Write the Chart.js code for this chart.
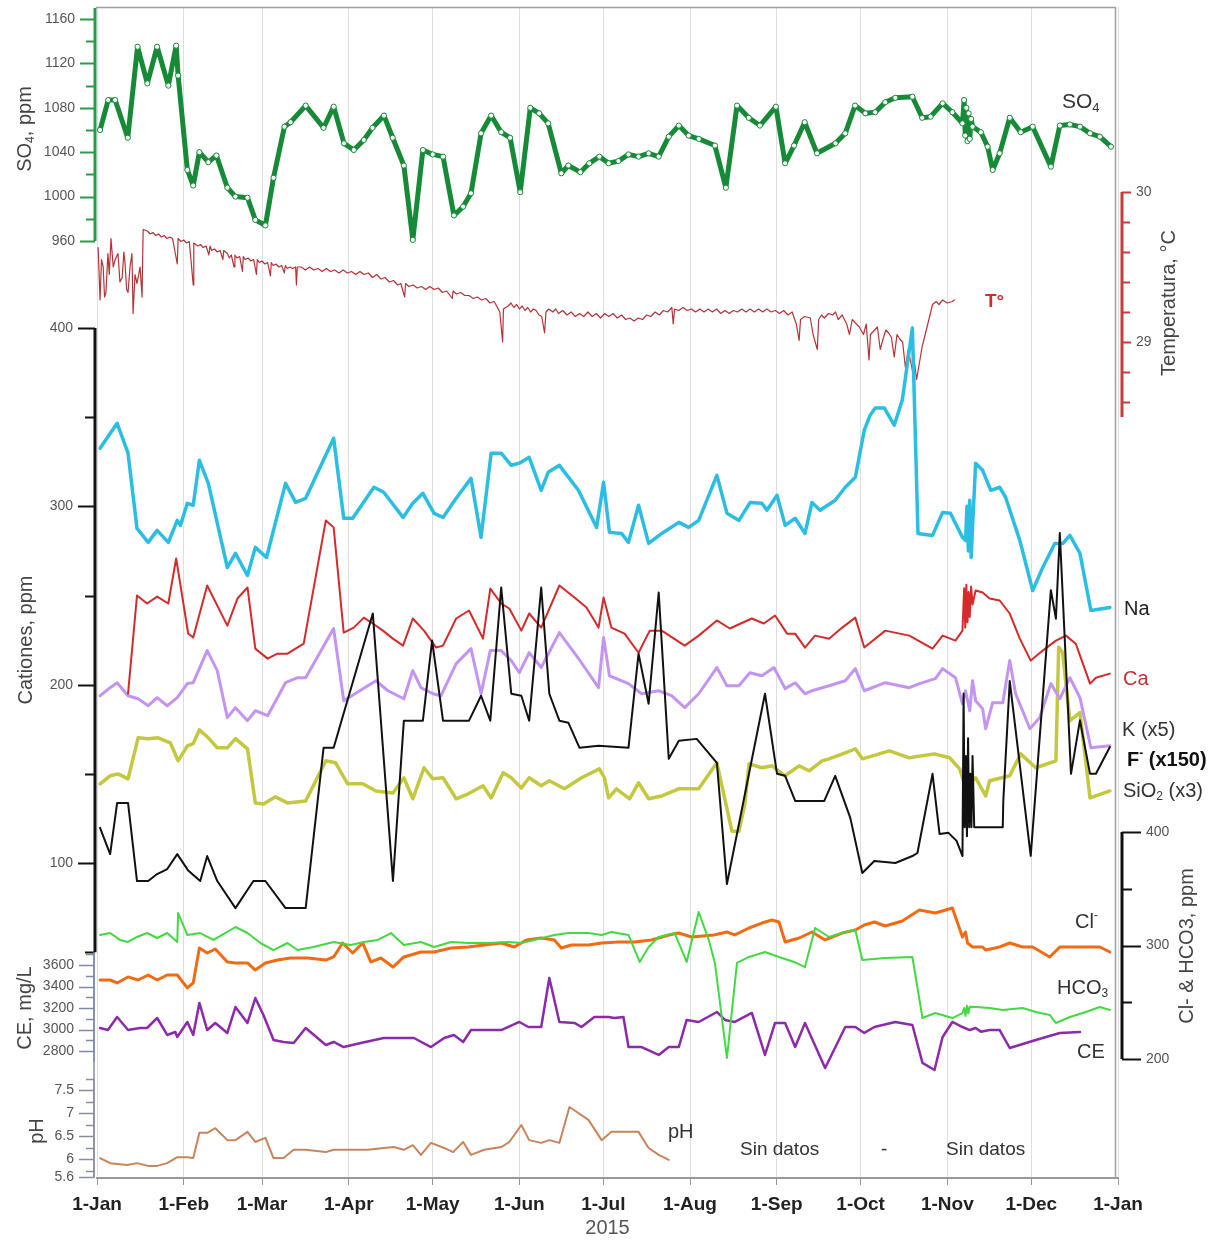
<!DOCTYPE html>
<html>
<head>
<meta charset="utf-8">
<script src="https://cdn.jsdelivr.net/npm/chart.js"></script>
<style>html,body{margin:0;padding:0;background:#fff}</style>
</head>
<body>
<canvas id="c" width="1228" height="1243"></canvas>
<script>
// ---- Time axis (day of year 2015) ----
const monthDays = [0, 31, 59, 90, 120, 151, 181, 212, 243, 273, 304, 334, 365];
const monthLabels = ['1-Jan','1-Feb','1-Mar','1-Apr','1-May','1-Jun','1-Jul','1-Aug','1-Sep','1-Oct','1-Nov','1-Dec','1-Jan'];

// ---- Series: [day, value] ----
const sulfate = [[1.1,1060],[4,1087],[6.5,1087],[11,1053],[14.5,1135],[18,1102],[21.5,1135],[25.5,1100],[28.3,1136],[29,1109],[32.3,1024],[34.4,1010],[36.6,1040],[39.8,1031],[42.7,1037],[46.6,1008],[49.5,1000],[53.8,999],[56.6,979],[60.2,974],[63.1,1017],[67,1063],[69.2,1067],[74.6,1082],[81,1062],[84.6,1081],[88.3,1048],[91.8,1042],[95.4,1051],[98.5,1062],[102.6,1073],[105.7,1053],[109.7,1028],[112.9,961],[116.5,1042],[120,1038],[123.7,1036],[127.6,983],[130.9,991],[133.7,1003],[137.3,1057],[140.9,1073],[144.5,1058],[147.7,1053],[151.3,1004],[154.9,1080],[158.1,1075],[161.3,1066],[166,1021],[168.5,1028],[172.8,1022],[176,1030],[179.6,1036],[182.9,1030],[186.4,1032],[190,1038],[193.6,1036],[197.2,1039],[200.8,1036],[204.4,1054],[208,1064],[211.5,1055],[215.1,1052],[220.9,1046],[224.8,1008],[228.8,1082],[233,1071],[237,1064],[242.7,1081],[246,1030],[249.2,1046],[253,1067],[257.4,1039],[264,1048],[267.5,1057],[271,1082],[274.7,1075],[278.2,1076],[281.8,1085],[285.4,1089],[291.5,1090],[295,1071],[298,1072],[302.3,1084],[305.8,1076],[309.4,1066],[310,1087],[310.4,1055],[310.8,1080],[311.2,1050],[311.6,1075],[312,1052],[312.5,1070],[313,1063],[316,1058],[318.4,1045],[320.2,1024],[322.7,1039],[326.3,1071],[330.2,1058],[334.5,1063],[341,1027],[344.2,1064],[347.8,1065],[351.4,1063],[355,1057],[358.5,1054],[362.5,1045]];

const temperature = [[0.4,29.63],[1.1,29.28],[1.6,29.55],[2.2,29.5],[2.7,29.3],[3.2,29.33],[3.9,29.59],[4.4,29.45],[5,29.69],[5.8,29.5],[6.5,29.55],[7.5,29.59],[8.2,29.4],[9,29.43],[9.6,29.6],[10,29.53],[10.6,29.35],[11.1,29.33],[11.8,29.5],[12.5,29.59],[12.9,29.19],[13.6,29.45],[14.3,29.39],[15.4,29.5],[16.1,29.3],[16.5,29.75],[18,29.74],[19,29.72],[20,29.73],[21,29.71],[22,29.72],[23,29.7],[24,29.71],[25,29.69],[26,29.7],[27,29.69],[28.7,29.52],[29,29.69],[30,29.67],[31,29.68],[32,29.66],[33,29.67],[34.4,29.38],[34.6,29.66],[36,29.64],[37,29.65],[38,29.63],[39,29.64],[40,29.58],[40.4,29.64],[41,29.61],[42,29.62],[43,29.6],[44,29.61],[45,29.55],[45.3,29.61],[46.6,29.59],[47.3,29.56],[48,29.58],[49,29.5],[49.3,29.58],[50,29.56],[51,29.57],[52,29.47],[52.3,29.57],[53,29.55],[54,29.56],[55,29.54],[56,29.55],[57,29.45],[57.3,29.55],[58,29.53],[59,29.54],[60,29.52],[61,29.53],[62,29.44],[62.3,29.53],[63,29.51],[64,29.52],[65,29.5],[66,29.51],[67,29.46],[67.3,29.51],[68,29.49],[69,29.5],[70,29.49],[71,29.5],[71.3,29.38],[71.6,29.5],[73,29.5],[74.5,29.48],[76,29.5],[77.5,29.48],[79,29.49],[80.5,29.47],[82,29.49],[83.5,29.47],[85,29.48],[86.5,29.46],[88,29.48],[89.5,29.46],[91,29.47],[92.5,29.45],[94,29.47],[95.5,29.45],[97,29.46],[98.5,29.43],[100,29.45],[101.5,29.42],[103,29.43],[104.5,29.4],[106,29.41],[107.5,29.38],[108.6,29.39],[110,29.3],[110.3,29.39],[111.5,29.37],[113,29.38],[114.5,29.36],[116,29.37],[117.5,29.35],[119,29.37],[120.5,29.35],[122,29.36],[123.5,29.33],[125,29.34],[127,29.29],[127.3,29.34],[128.5,29.32],[130,29.33],[131.5,29.31],[133,29.31],[134.5,29.29],[136,29.3],[137.5,29.28],[139,29.29],[140.5,29.26],[142,29.27],[144,29.2],[145,29.0],[145.3,29.22],[147,29.24],[148,29.26],[149,29.23],[150,29.25],[151,29.22],[152,29.24],[153,29.21],[154,29.23],[155,29.2],[156,29.22],[157,29.21],[158,29.18],[159,29.17],[160,29.06],[160.5,29.2],[161.5,29.22],[163,29.2],[164,29.22],[165,29.19],[166.5,29.21],[168,29.18],[169.5,29.2],[171,29.17],[172.5,29.19],[174,29.17],[175.5,29.2],[177,29.17],[178.5,29.19],[180,29.16],[181.5,29.19],[183,29.17],[184.5,29.19],[186,29.16],[187.5,29.18],[189,29.15],[190.5,29.16],[192,29.14],[193.5,29.16],[195,29.15],[196.5,29.18],[198,29.17],[199.5,29.2],[201,29.18],[202.5,29.21],[204,29.2],[205.5,29.23],[206,29.12],[206.5,29.22],[208,29.21],[209.5,29.23],[211,29.21],[212.5,29.22],[214,29.2],[215.5,29.22],[217,29.2],[218.5,29.22],[220,29.2],[221.5,29.22],[223,29.19],[224.5,29.21],[226,29.19],[227.5,29.21],[229,29.2],[230.5,29.22],[232,29.2],[233.5,29.22],[235,29.2],[236.5,29.22],[238,29.2],[239.5,29.22],[241,29.2],[242.5,29.21],[244,29.19],[245.5,29.21],[247,29.18],[248.5,29.2],[250,29.12],[251,29.01],[251.5,29.15],[253,29.17],[255,29.16],[256,29.05],[257.5,28.95],[258,29.15],[259,29.18],[260,29.16],[261.5,29.19],[263,29.18],[264,29.2],[265,29.15],[266.4,29.18],[268,29.12],[269,29.05],[270,29.15],[271.5,29.12],[272.5,29.1],[274,29.05],[275,29.12],[276,28.88],[276.5,29.05],[278,29.08],[279,29.1],[280,28.95],[281,29.02],[282,29.08],[283,29.06],[284,29.03],[285,28.9],[286,29.05],[287,29.02],[288,29.0],[289,28.83],[290,28.95],[291.5,28.81],[292,28.9],[293,28.75],[294,28.86],[295,28.97],[297,29.12],[298.7,29.25],[300,29.27],[301,29.25],[302.3,29.28],[304,29.26],[305.8,29.27],[306.5,29.28]];

const sodium = [[1.1,332.6],[7.2,346.6],[11.1,329.8],[14.3,287.6],[18.3,279.8],[21.5,286.5],[25.5,279.8],[28.7,292.1],[29.8,289.3],[32.3,301.7],[34.4,300.6],[36.6,325.8],[39.8,312.9],[46.6,265.7],[49.5,273.6],[53.8,261.2],[56.6,277],[60.6,271.3],[67.4,312.9],[71,302.2],[74.6,304.5],[84.6,338.2],[88.2,293.3],[91.4,293.3],[99,310.7],[102.5,307.9],[109.4,293.8],[112.9,301.7],[116.5,307.3],[120.5,296.1],[123.7,293.8],[128.4,304.5],[133.7,315.7],[137.3,282.6],[140.9,329.8],[144.5,329.8],[148.1,323],[151,324.2],[154.5,327.5],[158.8,309],[161.3,319.1],[165.3,323],[172.1,309],[178.6,288.2],[181.1,313.5],[183.2,285.4],[187.5,284.8],[190,279.8],[193.6,300.6],[197.2,279.2],[201.9,284.8],[208,291],[211.5,288.2],[215.1,292.1],[221.6,317.4],[225.2,296.1],[229.5,292.1],[233.5,302.2],[237.7,301.7],[239.5,297.8],[243.1,306.2],[246,289.3],[249.6,293.3],[253.1,284.8],[255.6,302.2],[258.5,297.8],[263.9,303.4],[267.5,310.7],[271.1,316.3],[274.3,342.7],[276.4,351.1],[278.2,355.1],[281.5,355.1],[285,345.5],[287.9,359.6],[291.5,400],[293.5,284.8],[298.7,283.7],[302.3,296.6],[305.1,296.1],[309.4,282.6],[310.5,280.9],[311,300],[311.5,275],[312,303.4],[312.5,271.3],[313,288.2],[314.1,324.2],[316.6,320.2],[319.5,309],[322.7,310.7],[324.8,305.1],[329.9,280.9],[334.5,252.8],[338.1,265.7],[342.4,279.2],[345.3,279.2],[347.8,283.7],[351.4,273.6],[355.3,241.6],[362.1,243.3]];

const calcium = [[11.1,195],[14.3,250],[17.9,245.5],[21.5,249.4],[25.5,245.5],[28.3,270.8],[32.6,228.7],[34.4,226.4],[39.4,255.6],[46.6,233.1],[50.2,248.3],[53.8,254.5],[56.6,220.2],[61,214.6],[64.5,217.4],[68.1,217.4],[73.9,223],[81.8,292.1],[84.6,288.2],[88.2,229.2],[91.8,232],[95.4,237.6],[98.6,234.3],[102.2,230.3],[105.8,225.8],[109.4,221.9],[112.9,237.1],[116.9,230.3],[121.2,220.8],[123.7,221.9],[128.4,237.1],[133,241.6],[138,225.8],[140.6,253.9],[144.5,245.5],[147.4,242.7],[151.7,230.3],[154.5,239.9],[158.8,232],[165.3,255.6],[170.7,248.9],[175,243.3],[179.3,232],[181.1,248.9],[183.9,232],[188.6,228.6],[193.6,217.9],[197.6,230.3],[201.9,230.3],[210.1,221.9],[215.1,227.5],[221.6,236],[226.2,231.5],[234.1,237.1],[238.4,234.3],[242.4,238.8],[246.7,228.6],[249.6,228.6],[253.1,220.8],[256.7,227.5],[261.7,225.8],[266.4,232],[271.1,237.6],[274.3,220.8],[281.8,230.3],[290.4,227.5],[298.7,220.2],[302.3,227.5],[306.9,224.7],[309.4,230.3],[310,254],[310.4,232],[310.8,256],[311.2,235],[311.6,252],[312,238],[312.5,255],[313,245],[314.1,252.8],[316.6,251.7],[319.1,248.3],[322.7,247.2],[326.3,239.9],[329.9,225.8],[333.8,213.5],[338.1,219.1],[342.8,224.7],[346.4,227.5],[349.9,223],[355,200.6],[357.1,203.9],[362.1,206.2]];

const potassiumX5 = [[1.1,193.8],[4.7,198.3],[7.2,201.1],[11.1,193.8],[14.7,192.1],[18.3,188.2],[21.5,192.7],[25.1,188.2],[28.7,192.7],[32.3,200.6],[34.4,201.1],[39.4,219.1],[43,207.9],[46.6,181.5],[49.5,187.1],[53.8,179.8],[56.6,185.4],[61,182.6],[67.4,201.1],[71.7,203.9],[74.6,203.9],[84.6,231.5],[88.2,191],[99.7,202.2],[104,196.6],[109.7,192.1],[112.9,207.9],[115.8,198.3],[120.1,194.9],[123,193.8],[128.4,211.8],[133.7,220.2],[137.3,194.9],[140.6,219.1],[144.5,219.1],[148.1,213.5],[151,206.7],[154.5,218],[158.8,209.6],[165.3,229.2],[172.1,214.8],[179.3,198.3],[181.1,226.4],[183.2,205],[190,200.6],[194.7,194.9],[200.8,196.6],[205.4,193.8],[210.1,187.1],[215.1,194.9],[221.6,209.6],[225.2,199.4],[229.5,199.4],[233.4,206.7],[237.7,205],[242,209.6],[246,197.8],[249.6,201.1],[253.1,194.9],[255.6,196.6],[261.7,199.4],[267.5,202.2],[271.1,209],[274.3,196.6],[281.8,201.1],[290.4,198.3],[294,200.6],[299.7,203.4],[302.3,209],[306.9,203.9],[309.4,189.3],[310.5,196.6],[312,185.4],[313,202.2],[314.1,191],[316.6,186.5],[317.7,175.3],[320.2,189.9],[323.8,189.9],[326.3,213.5],[328.4,194.9],[333.5,175.3],[337,181.5],[341,200.6],[344.2,192.1],[347.8,203.9],[351.4,192.7],[355.3,164.6],[362.1,165.7]];

const silicaX3 = [[1.1,144.4],[4.7,148.9],[7.5,150],[11.1,147.2],[14.7,170.2],[18.3,169.7],[21.9,170.2],[26.2,167.4],[29,157.3],[32.3,165.7],[34.4,166.9],[36.6,174.7],[39.8,170.2],[43,164.6],[46.6,164.6],[49.5,169.7],[53.8,164],[56.6,133.7],[59.5,133.1],[63.8,137.1],[68.1,133.7],[74.6,134.8],[81.8,157.3],[85.3,156.2],[89.6,144.4],[95,144.4],[99.7,140.4],[105.8,139.3],[109.7,147.8],[112.9,136],[116.9,153.4],[120.1,147.2],[123.7,147.8],[128.4,136],[132.7,138.8],[138,143.3],[140.9,136.5],[145.2,150.6],[148.1,147.8],[151.7,142.1],[154.5,147.8],[158.8,143.3],[161.7,146.1],[167.1,141.6],[173.2,147.8],[179.6,152.8],[181.4,147.8],[182.9,136.5],[185.7,141.6],[190.4,136],[193.6,145],[197.2,136],[201.9,137.6],[208,141.6],[215.1,141.6],[221.6,156.2],[227,117.8],[229.5,117.8],[231.6,133.1],[233.1,155.6],[237.7,153.4],[241.3,154.5],[246,148.9],[251,154.5],[254.6,151.7],[259.2,157.3],[261.7,158.4],[267.5,161.8],[271.1,164],[273.6,158.4],[283.3,162.9],[290.4,159],[299.4,161.2],[304.8,159],[308.4,152.8],[310.5,142.1],[314.1,147.8],[317.7,137.6],[319.1,146.1],[326.3,148.9],[330.2,161.2],[335.6,153.4],[342.8,157.3],[343.8,221],[345.2,218],[347.8,179.8],[351.4,184.3],[355,136.5],[362.1,140.4]];

const fluorideX150 = [[1.1,119.7],[4.7,105],[7.2,133.7],[11.1,133.7],[14.3,89.9],[18.3,89.9],[21.5,93.8],[25.1,96.6],[28.7,105],[32.5,96],[36.9,89.9],[39.4,103.9],[43,89.9],[49.5,74.7],[55.9,89.9],[60.2,89.9],[67.4,74.7],[74.6,74.7],[81,164.6],[84.6,164.6],[98.6,239.9],[105.8,89.9],[109.7,179.8],[116.5,179.8],[119.8,224.7],[123.7,179.8],[133,179.8],[137.3,193.8],[140.6,179.8],[144.5,254.5],[148.1,194.9],[151.7,193.8],[154.5,179.8],[158.8,254.5],[161.7,194.9],[165.3,179.8],[168.5,178.7],[172.5,164.6],[179.3,165.7],[190,164.6],[193.6,217.4],[197.2,189.3],[200.8,251.7],[204.4,158.4],[208,168.5],[214.4,169.6],[221.6,156.2],[225.2,88.2],[238.8,194.9],[243.1,150],[246,148.9],[249.6,134.8],[260,134.8],[263.9,148.9],[269.3,125.3],[273.6,94.4],[277.9,101.1],[285.4,100],[291.5,103.9],[293.3,105.6],[298.7,150],[301.2,116.3],[304.4,116.9],[307.3,112.4],[309.4,103.9],[309.8,195],[310.2,120],[310.6,160],[311,115],[311.4,170],[311.8,120],[312.2,150],[312.6,120],[313,160],[313.6,120],[323.8,120],[324,135],[326.3,202],[333.8,104],[341,253],[342.8,237],[344.2,285],[348.2,150],[351.4,180],[355,150],[357.1,150],[362.1,165]];

const chloride = [[1.1,269.6],[4.7,269.6],[7.2,267],[11.1,272.3],[14.7,269.6],[18.3,274],[21.5,269.6],[25.1,274],[28.7,274],[32.3,262.6],[34.4,267],[36.6,297.8],[39.4,293.4],[42.3,296.9],[46.6,285.5],[49.5,284.6],[53.8,284.6],[56.6,278.4],[60.2,284.6],[64.5,287.2],[69.2,289],[75.3,289],[81.8,287.2],[84.6,289.9],[87.8,302.2],[91.4,293.4],[95,302.2],[97.9,285.5],[101.5,289],[105.8,281],[109.7,289.9],[115.8,294.3],[120.5,294.3],[126.6,297.8],[132.7,298.7],[138.4,300.4],[144.5,302.2],[149.2,298.7],[153.5,304.9],[158.8,306.6],[163.5,304.9],[166,297.8],[169.6,300.4],[175.7,300.4],[180.4,302.2],[186.4,303.1],[192.2,303.1],[198.3,304.9],[204.4,309.3],[208,311],[212.6,307.5],[220.5,309.3],[225.2,311.9],[228,309.3],[233.1,315.4],[237.7,319.8],[241.3,322.5],[243.8,320.7],[246,303.1],[251,306.6],[255.6,311.9],[260.3,304.9],[266.4,311],[271.1,313.7],[274.3,318.1],[277.9,320.7],[281.8,317.2],[287.9,321.6],[294,331.3],[299.7,328.6],[305.8,333],[309.4,307.5],[310.5,311.9],[311.2,302.2],[313,298.7],[316.6,298.7],[317.7,296],[322.7,298.7],[326.3,302.2],[330.9,298.7],[334.5,298.7],[340.6,289.9],[344.2,298.7],[347.8,298.7],[352.5,298.7],[358.5,298.7],[362.1,294.3]];

const bicarbonate = [[1.1,309.3],[4.7,311],[8.2,304.9],[11.1,303.1],[14.3,307.5],[17.9,311],[21.5,306.6],[25.1,311],[28.7,303.1],[29,328.6],[32.3,309.3],[36.9,311],[41.6,304.9],[46.6,311.9],[49.5,316.3],[53.8,311],[58.4,302.2],[63.1,296],[68.1,302.2],[71.7,296],[77.4,298.7],[84.6,303.1],[90.7,300.4],[95.4,303.1],[100.4,304.9],[105.1,311],[109.7,300.4],[115.8,303.1],[120.5,298.7],[126.6,303.1],[132.7,302.2],[139.8,302.2],[147,303.1],[151.7,302.2],[156.3,304.9],[163.5,309.3],[168.5,311],[175.7,311],[180.4,309.3],[183.9,311.9],[190,309.3],[194,285.5],[197.2,298.7],[200.8,307.5],[206.5,311],[210.8,285.5],[215.1,329.5],[218.7,304.9],[220.9,284.6],[225.2,200.9],[228.8,284.6],[233.1,289.9],[238.8,294.3],[243.8,289.9],[249.2,285.5],[253.1,281],[256.7,315.4],[261.7,307.5],[266.4,311],[271.1,313.7],[273.6,287.2],[281.8,289],[291.5,289.9],[295.1,236.1],[299.7,240.5],[305.8,236.1],[309.4,240.5],[310,245],[310.5,238],[311,247],[311.5,240],[312,246],[314.1,245.8],[319.1,244.9],[323.8,243.2],[330.9,244.9],[335.6,241.4],[340.6,238.8],[342.8,231.7],[347.8,237],[353.5,241.4],[358.5,245.8],[362.1,243.2]];

const conductivity = [[1.1,3014],[3.9,2995],[7.2,3116],[11.1,2995],[15.4,3014],[17.9,3014],[21.5,3107],[25.1,2949],[28,2977],[28.7,2930],[32.3,3070],[34.4,2949],[36.6,3247],[39.4,2995],[42.3,3061],[46.6,2968],[49.5,3209],[53.8,3061],[56.6,3293],[59.5,3135],[63.1,2902],[66.7,2884],[70.3,2875],[74.6,3014],[81.8,2856],[84.6,2884],[88.2,2837],[94.3,2875],[102.5,2921],[108.6,2921],[113.3,2921],[119.4,2837],[124.1,2921],[127.6,2949],[130.9,2884],[133.7,2995],[139.8,2995],[144.5,2995],[151,3070],[154.2,3023],[158.8,3023],[161.7,3479],[165.3,3070],[170.7,3061],[173.2,3023],[177.8,3116],[182.9,3116],[185,3107],[188.2,3116],[190,2837],[194.7,2837],[200.8,2763],[204.4,2837],[208,2837],[210.8,3089],[215.1,3070],[221.6,3163],[224.5,3089],[228,3070],[234.1,3154],[238.8,2763],[242.4,3061],[246,3061],[249.6,2837],[253.1,3061],[260.3,2642],[267.5,3023],[271.1,3023],[274.3,2968],[277.9,3023],[285.4,3070],[291.5,3042],[295.1,2689],[299.4,2623],[302.3,2930],[305.8,3070],[309.4,3023],[312,2995],[314.1,3014],[316,2980],[319.1,2995],[322.7,2995],[326.3,2828],[335.6,2902],[344.2,2968],[351.4,2977]];

const phValues = [[1.1,6.02],[4.7,5.91],[10.8,5.87],[14.3,5.91],[18.3,5.85],[21.5,5.85],[25.1,5.91],[28.7,6.04],[32.3,6.04],[34.4,6.02],[36.6,6.57],[39.4,6.57],[42.3,6.67],[46.6,6.41],[49.5,6.41],[53.8,6.59],[56.6,6.37],[60.2,6.46],[63.1,6.02],[66.7,6.02],[70.3,6.2],[74.6,6.2],[81.8,6.15],[84.6,6.2],[90.7,6.2],[96.8,6.2],[102.5,6.24],[106.1,6.26],[109.7,6.2],[112.9,6.3],[115.8,6.09],[119.4,6.35],[124.1,6.24],[127.3,6.15],[130.9,6.37],[133.7,6.09],[138.4,6.2],[144.5,6.26],[147.4,6.37],[151.7,6.74],[154.5,6.41],[158.8,6.35],[161.7,6.41],[165.3,6.35],[168.9,7.13],[175.7,6.85],[180.4,6.41],[183.9,6.59],[190,6.59],[193.6,6.59],[197.2,6.24],[200.8,6.09],[204.4,5.98]];

// ---- Axis tick values ----
const so4Ticks = [960,980,1000,1020,1040,1060,1080,1100,1120,1140,1160];
const so4Labels = [960,1000,1040,1080,1120,1160];
const tempTicks = [28.6,28.8,29,29.2,29.4,29.6,29.8,30];
const tempLabels = [29,30];
const cationTicks = [50,100,150,200,250,300,350,400];
const cationLabels = [100,200,300,400];
const anionTicks = [200,250,300,350,400];
const anionLabels = [200,300,400];
const ceTicks = [2800,2900,3000,3100,3200,3300,3400,3500,3600,3700];
const ceLabels = [2800,3000,3200,3400,3600];
const phTicks = [5.6,5.75,6,6.25,6.5,6.75,7,7.25,7.5,7.75];
const phLabels = [5.6,6,6.5,7,7.5];

// ---- Layout ----
const FONT = 'Arial, "Liberation Sans", Helvetica, sans-serif';
const AREA = { left: 97, right: 1118, top: 7, bottom: 1178 };

// Each value band sits at its own height of the shared plot area:
// derive min/max so that two reference values land on the given pixel rows.
function band(v0, p0, v1, p1) {
  const s = (p0 - p1) / (v1 - v0);
  return { min: v0 - (AREA.bottom - p0) / s, max: v0 + (p0 - AREA.top) / s };
}
const rSO4 = band(960, 241, 1160, 19);
const rTemp = band(29, 342, 30, 192);
const rCat = band(100, 863, 400, 328);
const rAn = band(200, 1059, 400, 832);
const rCE = band(2800, 1051, 3600, 965);
const rPH = band(6, 1159, 7.5, 1090);

const pts = arr => arr.map(([x, y]) => ({ x, y }));
function line(label, data, axis, color, width, extra) {
  return Object.assign({ label, data: pts(data), yAxisID: axis, borderColor: color,
    backgroundColor: color, borderWidth: width, pointRadius: 0, fill: false }, extra || {});
}

const datasets = [
  line('SO4', sulfate, 'ySO4', '#178a38', 5, { pointRadius: 2.6, pointBackgroundColor: '#ffffff',
    pointBorderColor: '#178a38', pointBorderWidth: 1 }),
  line('F (x150)', fluorideX150, 'yCat', '#111111', 2),
  line('Na', sodium, 'yCat', '#2cbde2', 3.5),
  line('Ca', calcium, 'yCat', '#d42a2a', 2),
  line('K (x5)', potassiumX5, 'yCat', '#c394f2', 3),
  line('SiO2 (x3)', silicaX3, 'yCat', '#c3c83e', 3.5),
  line('HCO3', bicarbonate, 'yAn', '#42d942', 2),
  line('Cl', chloride, 'yAn', '#f26b12', 3),
  line('CE', conductivity, 'yCE', '#8c2aaa', 2.5),
  line('pH', phValues, 'yPH', '#c8845c', 2),
  line('T', temperature, 'yTemp', '#b3333a', 1.2)
];

// ---- Side axes drawn at fixed columns ----
const SIDE_AXES = [
  { id: 'ySO4', dir: -1, x: 95, color: '#2b9a4b', lw: 3, lo: 960, hi: 1170, ticks: so4Ticks, labels: so4Labels, major: 15, minor: 9 },
  { id: 'yCat', dir: -1, x: 95, color: '#111111', lw: 3, lo: 50, hi: 400, ticks: cationTicks, labels: cationLabels, major: 17, minor: 10 },
  { id: 'yCE', dir: -1, x: 94, color: '#7d8aa8', lw: 1.5, lo: 2700, hi: 3720, ticks: ceTicks, labels: ceLabels, major: 15, minor: 8 },
  { id: 'yPH', dir: -1, x: 94, color: '#8a8e9c', lw: 1.5, lo: 5.6, hi: 7.75, ticks: phTicks, labels: phLabels, major: 15, minor: 8 },
  { id: 'yTemp', dir: 1, x: 1122, color: '#c63b3b', lw: 3, lo: 28.5, hi: 30, ticks: tempTicks, labels: tempLabels, major: 9, minor: 8 },
  { id: 'yAn', dir: 1, x: 1122, color: '#111111', lw: 3, lo: 200, hi: 400, ticks: anionTicks, labels: anionLabels, major: 19, minor: 10 }
];

function rich(ctx, parts, x, y, size, color, align, weight) {
  const w8 = weight || 'normal';
  const fontFor = k => `${w8} ${k === 'n' ? size : Math.round(size * 0.62)}px ${FONT}`;
  let w = 0;
  for (const [t, k] of parts) { ctx.font = fontFor(k); w += ctx.measureText(t).width; }
  let cx = align === 'center' ? x - w / 2 : align === 'right' ? x - w : x;
  ctx.fillStyle = color;
  ctx.textAlign = 'left';
  ctx.textBaseline = 'middle';
  for (const [t, k] of parts) {
    ctx.font = fontFor(k);
    const dy = k === 'sub' ? size * 0.3 : k === 'sup' ? -size * 0.3 : 0;
    ctx.fillText(t, cx, y + dy);
    cx += ctx.measureText(t).width;
  }
}

function vertical(ctx, parts, cx, cy, size, color) {
  ctx.save();
  ctx.translate(cx, cy);
  ctx.rotate(-Math.PI / 2);
  rich(ctx, parts, 0, 0, size, color, 'center');
  ctx.restore();
}

const SERIES_TEXT = [
  { parts: [['SO', 'n'], ['4', 'sub']], x: 1062, y: 102, size: 21, color: '#333' },
  { parts: [['T°', 'n']], x: 985, y: 302, size: 19, color: '#c83232', weight: 'bold' },
  { parts: [['Na', 'n']], x: 1124, y: 609, size: 20, color: '#222' },
  { parts: [['Ca', 'n']], x: 1123, y: 679, size: 20, color: '#c83232' },
  { parts: [['K (x5)', 'n']], x: 1122, y: 730, size: 20, color: '#333' },
  { parts: [['F', 'n'], ['-', 'sup'], [' (x150)', 'n']], x: 1127, y: 760, size: 20, color: '#111', weight: 'bold' },
  { parts: [['SiO', 'n'], ['2', 'sub'], [' (x3)', 'n']], x: 1123, y: 791, size: 20, color: '#333' },
  { parts: [['Cl', 'n'], ['-', 'sup']], x: 1075, y: 922, size: 20, color: '#333' },
  { parts: [['HCO', 'n'], ['3', 'sub']], x: 1057, y: 988, size: 20, color: '#333' },
  { parts: [['CE', 'n']], x: 1077, y: 1052, size: 20, color: '#333' },
  { parts: [['pH', 'n']], x: 668, y: 1132, size: 20, color: '#333' },
  { parts: [['Sin datos', 'n']], x: 740, y: 1150, size: 19, color: '#333' },
  { parts: [['-', 'n']], x: 881, y: 1150, size: 19, color: '#333' },
  { parts: [['Sin datos', 'n']], x: 946, y: 1150, size: 19, color: '#333' }
];

const AXIS_TITLES = [
  { parts: [['SO', 'n'], ['4', 'sub'], [', ppm', 'n']], x: 25, y: 129 },
  { parts: [['Cationes, ppm', 'n']], x: 26, y: 640 },
  { parts: [['CE, mg/L', 'n']], x: 25, y: 1008 },
  { parts: [['pH', 'n']], x: 37, y: 1131 },
  { parts: [['Temperatura, °C', 'n']], x: 1169, y: 303 },
  { parts: [['Cl- & HCO3, ppm', 'n']], x: 1187, y: 946 }
];

const sideAxesPlugin = {
  id: 'sideAxes',
  beforeDatasetsDraw(chart) {
    const ctx = chart.ctx, a = chart.chartArea;
    ctx.save();
    ctx.strokeStyle = '#a0a0a0';
    ctx.lineWidth = 1.5;
    ctx.beginPath();
    ctx.moveTo(a.left - 1, a.top + 0.5); ctx.lineTo(1116, a.top + 0.5);
    ctx.moveTo(1115.5, a.top); ctx.lineTo(1115.5, a.bottom);
    ctx.stroke();
    ctx.restore();
  },
  afterDraw(chart) {
    const ctx = chart.ctx;
    ctx.save();
    // thin spine joining the two lower bands
    const yCE = chart.scales.yCE, yPH = chart.scales.yPH;
    ctx.strokeStyle = '#8a90a6';
    ctx.lineWidth = 1.5;
    ctx.beginPath();
    ctx.moveTo(94, yCE.getPixelForValue(3720));
    ctx.lineTo(94, yPH.getPixelForValue(5.6));
    ctx.stroke();

    for (const ax of SIDE_AXES) {
      const sc = chart.scales[ax.id];
      const y0 = sc.getPixelForValue(ax.lo), y1 = sc.getPixelForValue(ax.hi);
      ctx.strokeStyle = ax.color;
      ctx.lineWidth = ax.lw;
      ctx.beginPath();
      ctx.moveTo(ax.x, y0); ctx.lineTo(ax.x, y1);
      ctx.stroke();
      ctx.lineWidth = Math.min(ax.lw, 2);
      for (const v of ax.ticks) {
        const y = Math.round(sc.getPixelForValue(v)) + 0.5;
        const len = ax.labels.includes(v) ? ax.major : ax.minor;
        ctx.beginPath();
        ctx.moveTo(ax.x, y); ctx.lineTo(ax.x + ax.dir * len, y);
        ctx.stroke();
      }
      ctx.fillStyle = '#555';
      ctx.font = `14px ${FONT}`;
      ctx.textBaseline = 'middle';
      ctx.textAlign = ax.dir < 0 ? 'right' : 'left';
      for (const v of ax.labels) {
        const y = sc.getPixelForValue(v);
        ctx.fillText(String(v), ax.x + ax.dir * (ax.major + 5), y);
      }
    }

    for (const t of SERIES_TEXT) rich(ctx, t.parts, t.x, t.y, t.size, t.color, 'left', t.weight);
    for (const t of AXIS_TITLES) vertical(ctx, t.parts, t.x, t.y, 20, '#444');
    ctx.restore();
  }
};

function yScale(r) {
  return { type: 'linear', display: false, min: r.min, max: r.max };
}

new Chart(document.getElementById('c'), {
  type: 'line',
  data: { datasets },
  options: {
    responsive: false,
    devicePixelRatio: 1,
    animation: false,
    events: [],
    layout: { padding: { left: AREA.left, right: 1228 - AREA.right, top: AREA.top, bottom: 0 } },
    elements: { line: { tension: 0, borderJoinStyle: 'round', borderCapStyle: 'round' } },
    plugins: { legend: { display: false }, tooltip: { enabled: false } },
    scales: {
      x: {
        type: 'linear',
        min: 0,
        max: 365,
        afterBuildTicks: s => { s.ticks = monthDays.map(v => ({ value: v })); },
        afterFit: s => { s.height = 1243 - AREA.bottom; },
        ticks: {
          autoSkip: false,
          maxRotation: 0,
          padding: 8,
          color: '#222',
          font: { family: FONT, size: 19, weight: 'bold' },
          callback: (v, i) => monthLabels[i]
        },
        grid: { color: '#dedede', lineWidth: 1, drawTicks: true, tickLength: 7, tickColor: '#999' },
        border: { display: true, color: '#999', width: 2 },
        title: { display: true, text: '2015', color: '#555', font: { family: FONT, size: 20 }, padding: { top: 0, bottom: 3 } }
      },
      ySO4: yScale(rSO4),
      yTemp: yScale(rTemp),
      yCat: yScale(rCat),
      yAn: yScale(rAn),
      yCE: yScale(rCE),
      yPH: yScale(rPH)
    }
  },
  plugins: [sideAxesPlugin]
});
</script>
</body>
</html>
